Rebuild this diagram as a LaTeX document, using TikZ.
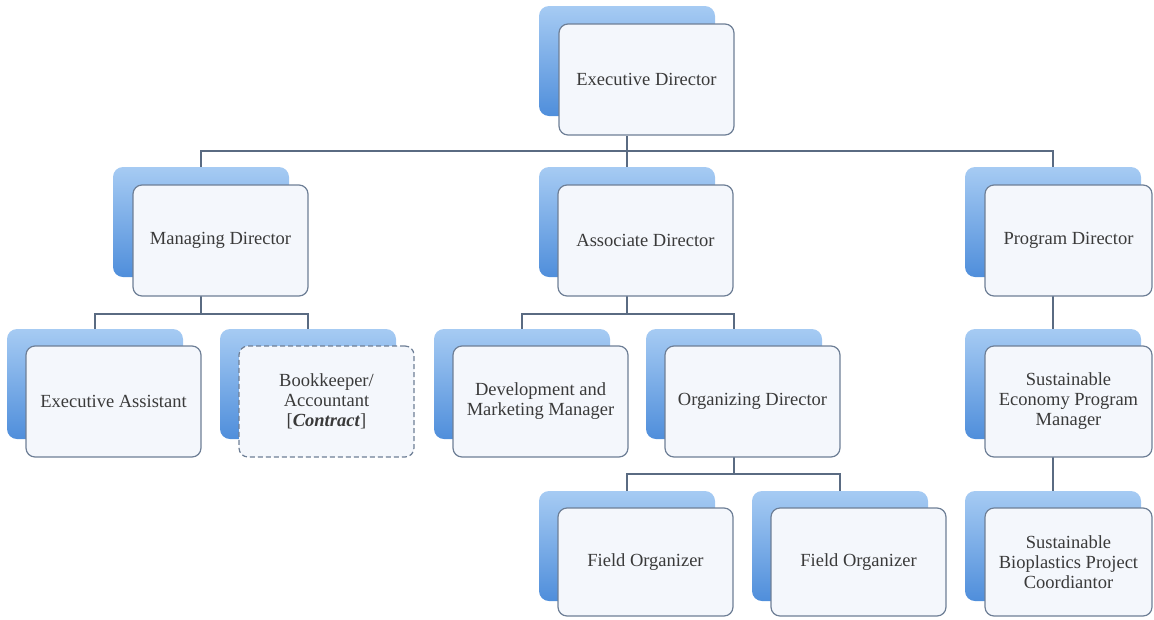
\documentclass[tikz,border=0pt]{standalone}
\usepackage{fontspec}
\setmainfont{Liberation Serif}
\definecolor{linec}{HTML}{5A6B82}
\definecolor{bgtop}{HTML}{A6CBF3}
\definecolor{bgbot}{HTML}{4F8EDB}
\definecolor{frontfill}{HTML}{F4F7FC}
\definecolor{frontdraw}{HTML}{6E7F96}
\definecolor{textc}{HTML}{3A3A3A}
\begin{document}
\begin{tikzpicture}[x=1pt,y=-1pt,
  backbox/.style={rounded corners=10pt, top color=bgtop, bottom color=bgbot, draw=none,
    minimum width=176pt, minimum height=110pt, anchor=north west, inner sep=0pt, outer sep=0pt},
  frontbox/.style={rounded corners=9pt, fill=frontfill, draw=frontdraw, line width=1.2pt,
    minimum width=175pt, minimum height=111pt, anchor=north west, align=center,
    font=\fontsize{18.5}{20}\selectfont, text=textc, inner sep=0pt, outer sep=0pt},
  narrow/.style={minimum width=167pt},
  shortbox/.style={minimum height=108pt},
  conn/.style={draw=linec, line width=1.3pt}]
\useasboundingbox (0,0) rectangle (1154,619);

% coordinates of the buses
\coordinate (bus1) at (0,151);
\coordinate (bus2) at (0,314);
\coordinate (bus3) at (0,474);

% back boxes
\node[backbox] (edb) at (539,6) {};
\node[backbox] (mdb) at (113,167) {};
\node[backbox] (adb) at (539,167) {};
\node[backbox] (pdb) at (965,167) {};
\node[backbox] (eab) at (7,329) {};
\node[backbox] (bkb) at (220,329) {};
\node[backbox] (dmb) at (434,329) {};
\node[backbox] (odb) at (646,329) {};
\node[backbox] (seb) at (965,329) {};
\node[backbox] (f1b) at (539,491) {};
\node[backbox] (f2b) at (752,491) {};
\node[backbox] (sbb) at (965,491) {};

% connectors
\draw[conn] (edb.south |- 0,136) -- (edb |- bus1) -| (mdb.north);
\draw[conn] (edb |- bus1) -| (adb.north);
\draw[conn] (edb |- bus1) -| (pdb.north);
\draw[conn] (mdb.south |- 0,296) -- (mdb |- bus2) -| (eab.north);
\draw[conn] (mdb |- bus2) -| (bkb.north);
\draw[conn] (adb.south |- 0,296) -- (adb |- bus2) -| (dmb.north);
\draw[conn] (adb |- bus2) -| (odb.north);
\draw[conn] (pdb.south |- 0,296) -- (seb.north);
\draw[conn] (odb.south |- 0,457) -- (odb |- bus3) -| (f1b.north);
\draw[conn] (odb |- bus3) -| (f2b.north);
\draw[conn] (seb.south |- 0,457) -- (sbb.north);

% front boxes
\node[frontbox] (ed) at (559,24) {Executive Director};
\node[frontbox] (md) at (133,185) {Managing Director};
\node[frontbox] (ad) at (558,185) {Associate Director};
\node[frontbox, narrow] (pd) at (985,185) {Program Director};
\node[frontbox] (ea) at (26,346) {Executive Assistant};
\node[frontbox, dashed, dash pattern=on 5pt off 3pt] (bk) at (239,346) {Bookkeeper/\\Accountant\\{}[\textbf{\textit{Contract}}]};
\node[frontbox] (dm) at (453,346) {Development and\\Marketing Manager};
\node[frontbox] (od) at (665,346) {Organizing Director};
\node[frontbox, narrow] (se) at (985,346) {Sustainable\\Economy Program\\Manager};
\node[frontbox, shortbox] (f1) at (558,508) {Field Organizer};
\node[frontbox, shortbox] (f2) at (771,508) {Field Organizer};
\node[frontbox, narrow, shortbox] (sb) at (985,508) {Sustainable\\Bioplastics Project\\Coordiantor};
\end{tikzpicture}
\end{document}
